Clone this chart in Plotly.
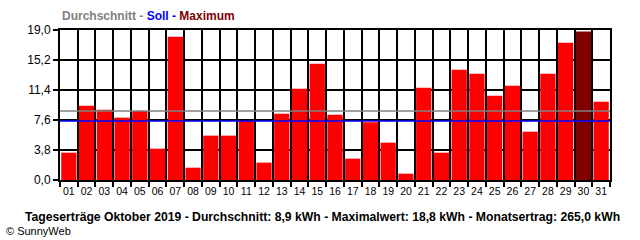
import plotly.graph_objects as go

days = [f"{d:02d}" for d in range(1, 32)]
values = [3.46, 9.42, 8.91, 7.90, 8.74, 3.97, 18.16, 1.56, 5.62, 5.62,
          7.47, 2.20, 8.40, 11.57, 14.74, 8.28, 2.70, 7.30, 4.73, 0.80,
          11.70, 3.46, 13.98, 13.47, 10.68, 11.95, 6.12, 13.47, 17.40, 18.80,
          9.92]
average_line = 8.74
soll_line = 7.47
y_ticks = [0.0, 3.8, 7.6, 11.4, 15.2, 19.0]
y_ticktext = ["0,0", "3,8", "7,6", "11,4", "15,2", "19,0"]

max_val = max(values)
colors = ["#800000" if v == max_val else "#FF0000" for v in values]

fig = go.Figure()
fig.add_trace(go.Bar(x=days, y=values, marker=dict(color=colors, line=dict(width=0)),
                     width=0.86, hoverinfo="skip"))

fig.add_hline(y=average_line, line=dict(color="#808080", width=1.5))
fig.add_hline(y=soll_line, line=dict(color="#0000FF", width=1.5))

fig.update_layout(
    width=640, height=240,
    margin=dict(l=60, r=30, t=30, b=60),
    paper_bgcolor="white", plot_bgcolor="white",
    showlegend=False,
    bargap=0.14,
    font=dict(family="Liberation Sans", color="black", size=11),
)
fig.update_xaxes(
    type="category", tickson="boundaries",
    showgrid=True, gridcolor="black", gridwidth=2,
    showline=True, linecolor="black", linewidth=2, mirror=True,
    ticks="outside", ticklen=5, tickwidth=1.5, tickcolor="black",
    tickangle=0,
    tickfont=dict(family="Liberation Sans", size=10.5, color="black"),
    range=[-0.5, 30.5], fixedrange=True,
)
fig.update_yaxes(
    range=[0, 19], tickvals=y_ticks, ticktext=y_ticktext,
    showgrid=True, gridcolor="black", gridwidth=2,
    showline=True, linecolor="black", linewidth=2, mirror=True,
    ticks="outside", ticklen=5, tickwidth=1.5, tickcolor="black",
    zeroline=False,
    tickfont=dict(family="Liberation Sans", size=12, color="black"),
)

fig.add_annotation(
    x=60, y=240 - 16.5, showarrow=False,
    text="<b><span style='color:#808080'>Durchschnitt - </span>"
         "<span style='color:#0000FF'>Soll - </span>"
         "<span style='color:#800000'>Maximum</span></b>",
    font=dict(family="Liberation Sans", size=12),
    xanchor="left", yanchor="middle",
)
fig.add_annotation(
    x=23, y=240 - 217, showarrow=False,
    text="<b>Tageserträge Oktober 2019 - Durchschnitt: 8,9 kWh - Maximalwert: 18,8 kWh - Monatsertrag: 265,0 kWh</b>",
    font=dict(family="Liberation Sans", size=12.2, color="black"),
    xanchor="left", yanchor="middle",
)
fig.add_annotation(
    x=4, y=240 - 231, showarrow=False,
    text="© SunnyWeb",
    font=dict(family="Liberation Sans", size=11, color="black"),
    xanchor="left", yanchor="middle",
)

# convert pixel positions for annotations to paper coords
for ann in fig.layout.annotations:
    ann.xref = "paper"
    ann.yref = "paper"
    ann.x = (ann.x - 60) / 550
    ann.y = (ann.y - 60) / 150

fig.write_html("out.html")
